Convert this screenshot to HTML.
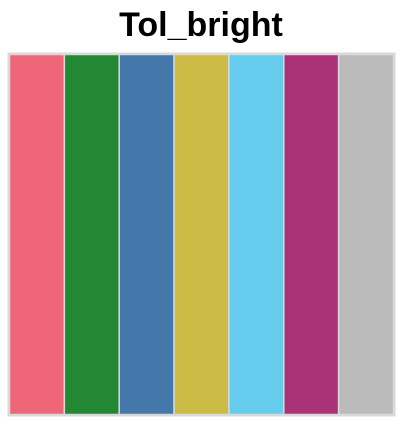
<!DOCTYPE html>
<html><head><meta charset="utf-8">
<style>
html,body{margin:0;padding:0;background:#fff;}
body{width:410px;height:424px;overflow:hidden;}
</style></head>
<body>
<svg id="chart" width="410" height="424" xmlns="http://www.w3.org/2000/svg">
<text x="201" y="36" text-anchor="middle" font-family="Liberation Sans, sans-serif" font-weight="bold" font-size="34" fill="#000">Tol_bright</text>
<rect x="8.5" y="53.5" width="386" height="362" fill="#fff" stroke="#d9d9d9" stroke-width="2"/>
<g id="bars"></g>
</svg>
<script>
const categories = ["1","2","3","4","5","6","7"];
const colors = ["#EE6677","#228833","#4477AA","#CCBB44","#66CCEE","#AA3377","#BBBBBB"];
const values = [1,1,1,1,1,1,1];

const x0 = 9.5, x1 = 393.5, yTop = 54.5, yBot = 414.5;
const band = (x1 - x0) / categories.length;
function xScale(i){ return x0 + i * band; }
function yScale(v){ return yBot - v * (yBot - yTop); }
const g = document.getElementById('bars');
categories.forEach((c, i) => {
  const r = document.createElementNS('http://www.w3.org/2000/svg','rect');
  
  
  r.setAttribute('x', xScale(i));
  r.setAttribute('y', yScale(values[i]));
  r.setAttribute('width', band);
  r.setAttribute('height', yBot - yScale(values[i]));
  r.setAttribute('fill', colors[i]);
  r.setAttribute('stroke', '#d9d9d9');
  r.setAttribute('stroke-width', '1.5');
  g.appendChild(r);
});
</script>
</body></html>
